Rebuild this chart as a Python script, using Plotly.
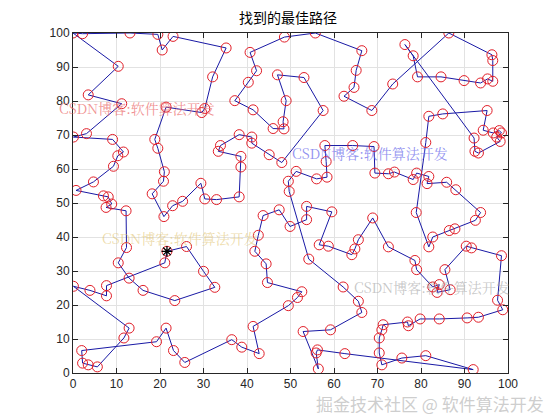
import plotly.graph_objects as go

# Tour of cities (in visiting order)
tour_x = [21.6, 26.1, 30.0, 32.6, 23.4, 16.1, 12.9, 10.4, 12.3, 12.2,
          7.6, 8.9, 8.1, 7.0, 0.7, 4.7, 9.3, 10.3, 11.6, 9.1,
          0.1, 3.1, 11.2, 3.5, 10.4, 0.0, 2.2, 13.1, 19.5, 20.5,
          23.0, 35.2, 32.1, 30.3, 29.6, 21.4, 18.8, 19.5, 21.0, 20.8,
          18.2, 20.9, 22.9, 25.2, 29.4, 30.3, 33.0, 38.2, 38.6, 38.6,
          33.4, 33.9, 38.2, 41.1, 41.1, 45.1, 48.0, 57.5, 53.1, 47.0,
          49.0, 48.3, 48.5, 46.0, 41.4, 37.2, 40.3, 42.2, 40.7, 48.6,
          55.7, 66.4, 65.1, 64.6, 62.3, 68.7, 73.5, 86.4, 96.3, 96.5,
          96.5, 95.3, 93.7, 89.9, 84.6, 79.2, 78.2, 76.3, 92.2, 92.4,
          93.2, 98.2, 97.4, 98.5, 98.0, 96.6, 94.3, 95.2, 85.0, 81.8,
          81.1, 78.9, 81.8, 82.7, 86.5, 87.8, 92.5, 93.7, 88.0, 85.9,
          81.4, 81.8, 79.0, 78.2, 73.9, 72.5, 69.4, 69.2, 64.3, 57.9,
          58.2, 58.4, 56.0, 51.3, 49.5, 49.7, 54.2, 62.1, 65.6, 66.4,
          59.2, 52.9, 56.4, 55.9, 56.2, 62.5, 92.0, 81.1, 75.6, 71.0,
          70.4, 70.4, 71.0, 71.3, 76.9, 77.1, 79.8, 84.2, 90.6, 93.2,
          98.8, 97.6, 98.5, 91.6, 90.4, 85.5, 86.7, 83.7, 84.2, 82.7,
          79.0, 78.6, 72.5, 68.9, 65.6, 64.8, 64.1, 58.7, 56.6, 59.5,
          53.7, 53.7, 49.9, 47.4, 43.7, 42.6, 41.8, 44.4, 44.7, 52.6,
          51.6, 49.5, 41.4, 42.8, 38.8, 36.5, 25.7, 23.1, 21.4, 19.2,
          2.0, 2.2, 3.5, 5.6, 11.7, 12.9, 0.1, 3.9, 7.7, 7.7,
          21.1]
tour_y = [35.8, 37.2, 29.9, 25.2, 21.3, 24.3, 27.9, 32.4, 36.9, 47.7,
          48.7, 49.7, 51.8, 52.1, 53.7, 56.2, 60.8, 63.9, 65.0, 68.7,
          69.4, 70.4, 79.2, 81.8, 90.2, 100.0, 99.8, 100.0, 99.6, 95.0,
          99.0, 95.6, 87.1, 77.8, 76.6, 78.2, 68.7, 66.1, 59.2, 56.4,
          52.7, 46.0, 49.2, 50.5, 55.8, 51.2, 51.0, 51.8, 60.6, 63.7,
          65.2, 66.9, 70.1, 69.4, 67.6, 64.2, 61.9, 77.2, 86.9, 87.7,
          80.1, 73.9, 71.8, 71.9, 77.4, 80.1, 85.5, 88.9, 94.3, 98.8,
          100.0, 94.8, 89.0, 84.0, 81.4, 77.2, 85.0, 100.0, 93.6, 91.9,
          85.8, 86.5, 85.3, 86.0, 87.1, 87.1, 93.3, 96.6, 69.1, 65.2,
          64.7, 68.1, 69.4, 70.6, 71.3, 70.6, 71.4, 77.2, 76.2, 75.5,
          67.8, 47.2, 37.1, 40.0, 41.9, 42.4, 44.9, 47.2, 53.9, 56.1,
          55.7, 57.8, 58.8, 56.9, 59.1, 58.6, 58.8, 66.6, 66.9, 66.9,
          62.2, 57.6, 57.1, 59.3, 56.4, 53.4, 33.5, 25.3, 21.1, 17.8,
          12.7, 12.2, 1.2, 5.9, 6.8, 5.7, 1.0, 5.1, 4.4, 2.4,
          5.9, 10.3, 12.7, 14.2, 15.0, 13.9, 15.9, 15.9, 16.2, 16.4,
          18.6, 21.4, 34.5, 36.8, 37.3, 30.4, 24.5, 23.7, 26.0, 25.3,
          30.4, 33.1, 37.1, 45.6, 39.2, 36.5, 34.8, 37.3, 37.7, 47.4,
          49.0, 45.1, 43.1, 48.0, 46.3, 40.5, 35.8, 32.1, 26.6, 23.9,
          22.2, 19.8, 13.7, 5.7, 7.6, 9.8, 3.1, 6.6, 13.2, 9.2,
          6.6, 2.9, 2.4, 1.8, 10.3, 13.2, 25.5, 24.3, 22.7, 25.7,
          32.4]

start_x = [tour_x[0]]
start_y = [tour_y[0]]

ticks = [0, 10, 20, 30, 40, 50, 60, 70, 80, 90, 100]
title_text = "找到的最佳路径"
wm_text = "CSDN博客:软件算法开发"
bottom_text = "掘金技术社区 @ 软件算法开发"

fig = go.Figure()
fig.add_trace(go.Scatter(
    x=tour_x + [tour_x[0]], y=tour_y + [tour_y[0]], mode="lines",
    line=dict(color="rgb(25,25,165)", width=1), hoverinfo="skip"))
fig.add_trace(go.Scatter(
    x=tour_x, y=tour_y, mode="markers",
    marker=dict(symbol="circle-open", size=10, color="rgb(225,30,40)",
                line=dict(width=1, color="rgb(225,30,40)"))))
fig.add_trace(go.Scatter(
    x=start_x, y=start_y, mode="markers",
    marker=dict(symbol="asterisk-open", size=9, color="black",
                line=dict(width=1.3, color="black"))))

axis_common = dict(range=[0, 100], tickvals=ticks, ticks="inside", ticklen=5,
                   tickcolor="#262626", showline=True, linecolor="#262626",
                   linewidth=1, mirror="allticks", showgrid=True,
                   gridcolor="#e2e2e2", gridwidth=1, zeroline=False,
                   tickfont=dict(family="Liberation Sans, Arial", size=12, color="#262626"))
fig.update_xaxes(**axis_common)
fig.update_yaxes(**axis_common)

wm = [
    (-0.037, 0.78, "rgba(235,110,110,0.75)"),
    (0.499, 0.648, "rgba(110,110,235,0.75)"),
    (0.062, 0.397, "rgba(225,195,110,0.6)"),
    (0.641, 0.253, "rgba(160,160,160,0.6)"),
]
annotations = []
for ax_, ay_, col in wm:
    annotations.append(dict(x=ax_, y=ay_, xref="paper", yref="paper", text=wm_text,
                            showarrow=False, xanchor="left", yanchor="middle",
                            font=dict(family="Noto Serif CJK SC, Noto Sans CJK SC", size=14, color=col)))
annotations.append(dict(x=0.554, y=-0.09, xref="paper", yref="paper", text=bottom_text,
                        showarrow=False, xanchor="left", yanchor="middle",
                        font=dict(family="Noto Sans CJK SC", size=17, color="rgba(200,200,200,0.9)")))

fig.update_layout(
    width=560, height=420,
    margin=dict(l=65, r=60, t=25, b=55),
    paper_bgcolor="white", plot_bgcolor="white",
    showlegend=False,
    title=dict(text=title_text, x=0.5, xanchor="center", y=0.976, yanchor="middle",
               font=dict(family="Noto Sans CJK SC", size=14, color="black")),
    annotations=annotations,
)

fig.write_html("out.html")
